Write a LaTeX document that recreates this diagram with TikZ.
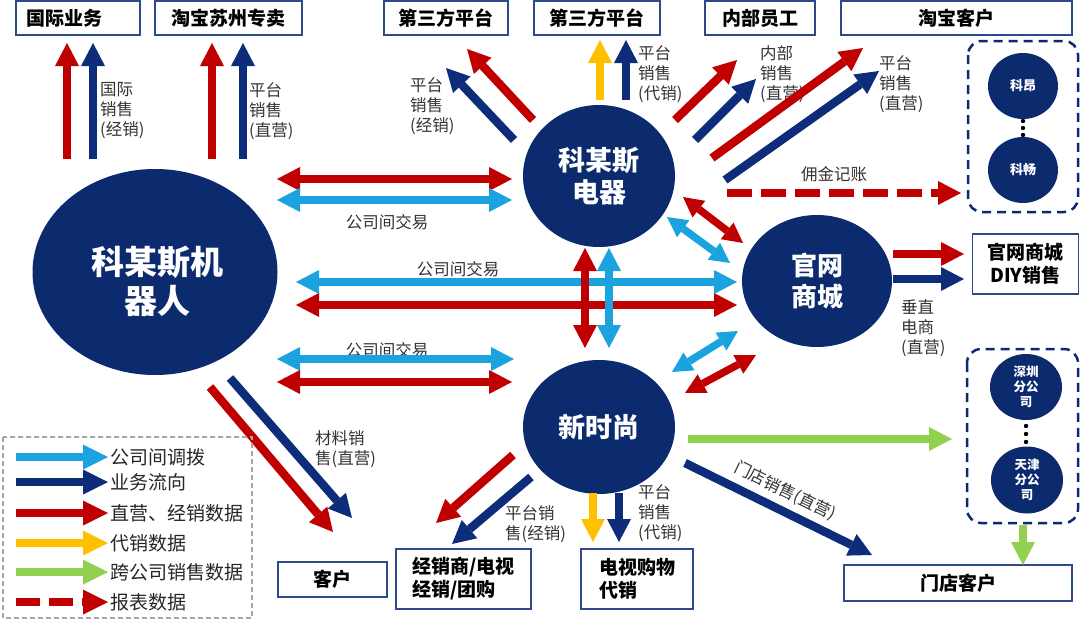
\documentclass[tikz,border=0pt]{standalone}
\usepackage{fontspec}
\setmainfont{Noto Sans CJK SC}
\usetikzlibrary{arrows.meta,shapes.geometric}
\definecolor{navy}{HTML}{0B2B6E}
\definecolor{anavy}{HTML}{0D2C7A}
\definecolor{cred}{HTML}{C00000}
\definecolor{cblue}{HTML}{1AA3DE}
\definecolor{cyel}{HTML}{FFC000}
\definecolor{cgrn}{HTML}{92D050}
\definecolor{bline}{HTML}{2F4A8A}
\definecolor{anntext}{HTML}{333333}
\tikzset{
  bt/.tip={Triangle[length=23pt,width=24pt,line width=0pt]},
  mt/.tip={Triangle[length=20pt,width=21pt,line width=0pt]},
  sarr/.style={line width=8.5pt,-{bt}},
  darr/.style={line width=8.5pt,{bt}-{bt}},
  smdarr/.style={line width=7.5pt,{mt}-{mt}},
  box/.style={draw=bline,line width=1.3pt,fill=white,font=\bfseries\fontsize{19}{23}\selectfont,inner sep=0pt,align=center},
  lbox/.style={box,align=left},
  circ/.style={ellipse,fill=navy,text=white,inner sep=0pt,align=center,font=\bfseries},
  ann/.style={font=\fontsize{16.5}{20}\selectfont,text=anntext,align=left,inner sep=0pt,anchor=north west},
  cann/.style={font=\fontsize{16.5}{20}\selectfont,text=anntext,inner sep=0pt},
  leg/.style={font=\fontsize{19}{22}\selectfont,text=black!85,inner sep=0pt,anchor=west},
  dbox/.style={draw=navy,line width=2.5pt,dash pattern=on 9pt off 6pt,rounded corners=14pt},
}
\begin{document}
\begin{tikzpicture}[x=1pt,y=-1pt]
\useasboundingbox (0,0) rectangle (1080,629);

% ---------- boxes ----------
\node[box,align=left,inner xsep=11pt,text width=102pt,minimum height=34pt] (gjyw) at (78,18) {国际业务};
\node[box,minimum width=147pt,minimum height=34pt] (tbsz) at (228.5,18) {淘宝苏州专卖};
\node[box,minimum width=124pt,minimum height=34pt] (dsf1) at (446,18) {第三方平台};
\node[box,minimum width=126pt,minimum height=34pt] (dsf2) at (597,18) {第三方平台};
\node[box,minimum width=110pt,minimum height=34pt] (nbyg) at (760,18) {内部员工};
\node[box,minimum width=231pt,minimum height=34pt] (tbkh) at (956.5,18) {淘宝客户};
\node[box,minimum width=106pt,minimum height=60pt] (gwdiy) at (1025.5,264) {官网商城\\DIY销售};
\node[box,minimum width=109pt,minimum height=35pt] (kh) at (332.5,579.5) {客户};
\node[lbox,minimum width=135pt,minimum height=60pt] (jxs) at (463.5,579) {经销商/电视\\经销/团购};
\node[lbox,minimum width=112pt,minimum height=60pt] (dsgw) at (637,579) {电视购物\\代销};
\node[box,minimum width=228pt,minimum height=36pt] (mdkh) at (958,583) {门店客户};

% ---------- dashed groups ----------
\draw[dbox] (968,41) rectangle (1078,212);
\draw[dbox] (967,349) rectangle (1078,523);

% ---------- circles ----------
\node[circ,minimum width=245pt,minimum height=206pt] (robot) at (155,272) {};
\node[text=white,font=\bfseries\fontsize{33}{39}\selectfont,align=center,inner sep=0pt] (robottxt) at (157,281) {科某斯机\\器人};
\node[circ,minimum width=152pt,minimum height=142pt,font=\bfseries\fontsize{27}{32}\selectfont] (elec) at (599,176) {科某斯\\电器};
\node[circ,minimum width=150pt,minimum height=132pt,font=\bfseries\fontsize{26}{31}\selectfont] (guan) at (817,281) {官网\\商城};
\node[circ,minimum width=152pt,minimum height=134pt,font=\bfseries\fontsize{27}{32}\selectfont] (xin) at (599,427) {新时尚};
\node[circ,minimum width=70pt,minimum height=66pt,font=\bfseries\fontsize{13}{15}\selectfont] (keang) at (1023,86) {科昂};
\node[circ,minimum width=70pt,minimum height=66pt,font=\bfseries\fontsize{13}{15}\selectfont] (kechang) at (1023,170) {科畅};
\node[circ,minimum width=72pt,minimum height=66pt,font=\bfseries\fontsize{12.5}{15}\selectfont] (sz) at (1026,387) {深圳\\分公\\司};
\node[circ,minimum width=72pt,minimum height=67pt,font=\bfseries\fontsize{12.5}{15}\selectfont] (tj) at (1027,480) {天津\\分公\\司};
\foreach \yy in {121,128,135} \fill[black] (1023,\yy) circle (2.2pt);
\foreach \yy in {426,434,442} \fill[black] (1026,\yy) circle (2.2pt);

% ---------- annotations ----------
\node[ann] (ann1) at (100,82) {国际\\销售\\(经销)};
\node[ann] (ann2) at (249,82) {平台\\销售\\(直营)};
\node[ann] (ann3) at (410,77) {平台\\销售\\(经销)};
\node[ann] (ann4) at (638,45) {平台\\销售\\(代销)};
\node[ann] (ann5) at (760,45) {内部\\销售\\(直营)};
\node[ann] (ann6) at (879,55) {平台\\销售\\(直营)};
\node[ann] (ann7) at (901,299) {垂直\\电商\\(直营)};
\node[ann] (ann8) at (315,430) {材料销\\售(直营)};
\node[ann] (ann9) at (505,505) {平台销\\售(经销)};
\node[ann] (ann10) at (638,484) {平台\\销售\\(代销)};
\node[cann] (yj) at (834,174) {佣金记账};
\node[cann] (gs1) at (387,222) {公司间交易};
\node[cann] (gs2) at (458,269) {公司间交易};
\node[cann] (gs3) at (387,350) {公司间交易};
\node[cann,rotate=-26] (md) at (785,491) {门店销售(直营)};

% ---------- arrow end points ----------
\coordinate (r1s) at (67,159);   \coordinate (r1e) at (67,43);
\coordinate (n1s) at (93,159);   \coordinate (n1e) at (93,43);
\coordinate (r2s) at (212,159);  \coordinate (r2e) at (212,43);
\coordinate (n2s) at (243,159);  \coordinate (n2e) at (243,43);
\coordinate (r3s) at (533,120);  \coordinate (r3e) at (467,49);
\coordinate (n3s) at (514,140);  \coordinate (n3e) at (446,68);
\coordinate (y4s) at (600,100);  \coordinate (y4e) at (600,40);
\coordinate (n4s) at (626,100);  \coordinate (n4e) at (626,40);
\coordinate (r5s) at (675,120);  \coordinate (r5e) at (737,60);
\coordinate (n5s) at (695,140);  \coordinate (n5e) at (756,79);
\coordinate (r6s) at (712,158);  \coordinate (r6e) at (863,48);
\coordinate (n6s) at (725,180);  \coordinate (n6e) at (879,71);
\coordinate (ds) at (727,193);   \coordinate (de) at (961,193);
\coordinate (a8rs) at (277,179); \coordinate (a8re) at (512,179);
\coordinate (a8bs) at (277,200); \coordinate (a8be) at (512,200);
\coordinate (a9bs) at (296,282); \coordinate (a9be) at (737,282);
\coordinate (a9rs) at (296,305); \coordinate (a9re) at (737,305);
\coordinate (a10bs) at (277,359); \coordinate (a10be) at (514,359);
\coordinate (a10rs) at (277,382); \coordinate (a10re) at (512,382);
\coordinate (a11rs) at (585,248); \coordinate (a11re) at (585,348);
\coordinate (a11bs) at (609,248); \coordinate (a11be) at (609,348);
\coordinate (a12rs) at (683,197); \coordinate (a12re) at (743,243);
\coordinate (a12bs) at (667,217); \coordinate (a12be) at (730,263);
\coordinate (a13bs) at (672,372); \coordinate (a13be) at (738,331);
\coordinate (a13rs) at (685,393); \coordinate (a13re) at (756,355);
\coordinate (r14s) at (893,254); \coordinate (r14e) at (964,254);
\coordinate (n14s) at (893,279); \coordinate (n14e) at (964,279);
\coordinate (r15s) at (210,387); \coordinate (r15e) at (333,532);
\coordinate (n15s) at (230,378); \coordinate (n15e) at (352,518);
\coordinate (r16s) at (513,455); \coordinate (r16e) at (436,523);
\coordinate (n16s) at (531,477); \coordinate (n16e) at (452,544);
\coordinate (y17s) at (593,493); \coordinate (y17e) at (593,542);
\coordinate (n17s) at (619,493); \coordinate (n17e) at (619,542);
\coordinate (n18s) at (685,463); \coordinate (n18e) at (872,555);
\coordinate (g19s) at (688,439); \coordinate (g19e) at (952,439);
\coordinate (g20s) at (1023,525); \coordinate (g20e) at (1023,565);

% ---------- arrows ----------
\draw[sarr,cred] (r1s) -- (r1e);
\draw[sarr,anavy] (n1s) -- (n1e);
\draw[sarr,cred] (r2s) -- (r2e);
\draw[sarr,anavy] (n2s) -- (n2e);
\draw[sarr,cred] (r3s) -- (r3e);
\draw[sarr,anavy] (n3s) -- (n3e);
\draw[sarr,cyel] (y4s) -- (y4e);
\draw[sarr,anavy] (n4s) -- (n4e);
\draw[sarr,cred] (r5s) -- (r5e);
\draw[sarr,anavy] (n5s) -- (n5e);
\draw[sarr,cred] (r6s) -- (r6e);
\draw[sarr,anavy] (n6s) -- (n6e);
\draw[sarr,cred,dash pattern=on 25pt off 9pt] (ds) -- (de);
\draw[darr,cred] (a8rs) -- (a8re);
\draw[darr,cblue] (a8bs) -- (a8be);
\draw[darr,cblue] (a9bs) -- (a9be);
\draw[darr,cred] (a9rs) -- (a9re);
\draw[darr,cblue] (a10bs) -- (a10be);
\draw[darr,cred] (a10rs) -- (a10re);
\draw[darr,cred] (a11rs) -- (a11re);
\draw[darr,cblue] (a11bs) -- (a11be);
\draw[smdarr,cred] (a12rs) -- (a12re);
\draw[smdarr,cblue] (a12bs) -- (a12be);
\draw[smdarr,cblue] (a13bs) -- (a13be);
\draw[smdarr,cred] (a13rs) -- (a13re);
\draw[sarr,cred] (r14s) -- (r14e);
\draw[sarr,anavy] (n14s) -- (n14e);
\draw[sarr,cred] (r15s) -- (r15e);
\draw[sarr,anavy] (n15s) -- (n15e);
\draw[sarr,cred] (r16s) -- (r16e);
\draw[sarr,anavy] (n16s) -- (n16e);
\draw[sarr,cyel] (y17s) -- (y17e);
\draw[sarr,anavy] (n17s) -- (n17e);
\draw[sarr,anavy] (n18s) -- (n18e);
\draw[sarr,cgrn] (g19s) -- (g19e);
\draw[sarr,cgrn] (g20s) -- (g20e);

% ---------- legend ----------
\draw[gray!70,line width=1.5pt,dash pattern=on 5pt off 3pt] (3,437) rectangle (252,618);
\foreach \yy/\col/\txt/\nm in {457/cblue/公司间调拨/l1, 482/anavy/业务流向/l2, 513/cred/直营、经销数据/l3, 543/cyel/代销数据/l4, 572/cgrn/跨公司销售数据/l5}{
  \coordinate (\nm s) at (16,\yy);
  \coordinate (\nm e) at (108,\yy);
  \draw[sarr,\col,-{Triangle[length=25pt,width=25pt,line width=0pt]}] (\nm s) -- (\nm e);
  \node[leg] (\nm t) at (110,\yy) {\txt};
}
\coordinate (l6s) at (16,602);
\coordinate (l6e) at (108,602);
\draw[sarr,cred,dash pattern=on 24pt off 9pt,-{Triangle[length=25pt,width=25pt,line width=0pt]}] (l6s) -- (l6e);
\node[leg] (l6t) at (110,602) {报表数据};
\end{tikzpicture}
\end{document}
